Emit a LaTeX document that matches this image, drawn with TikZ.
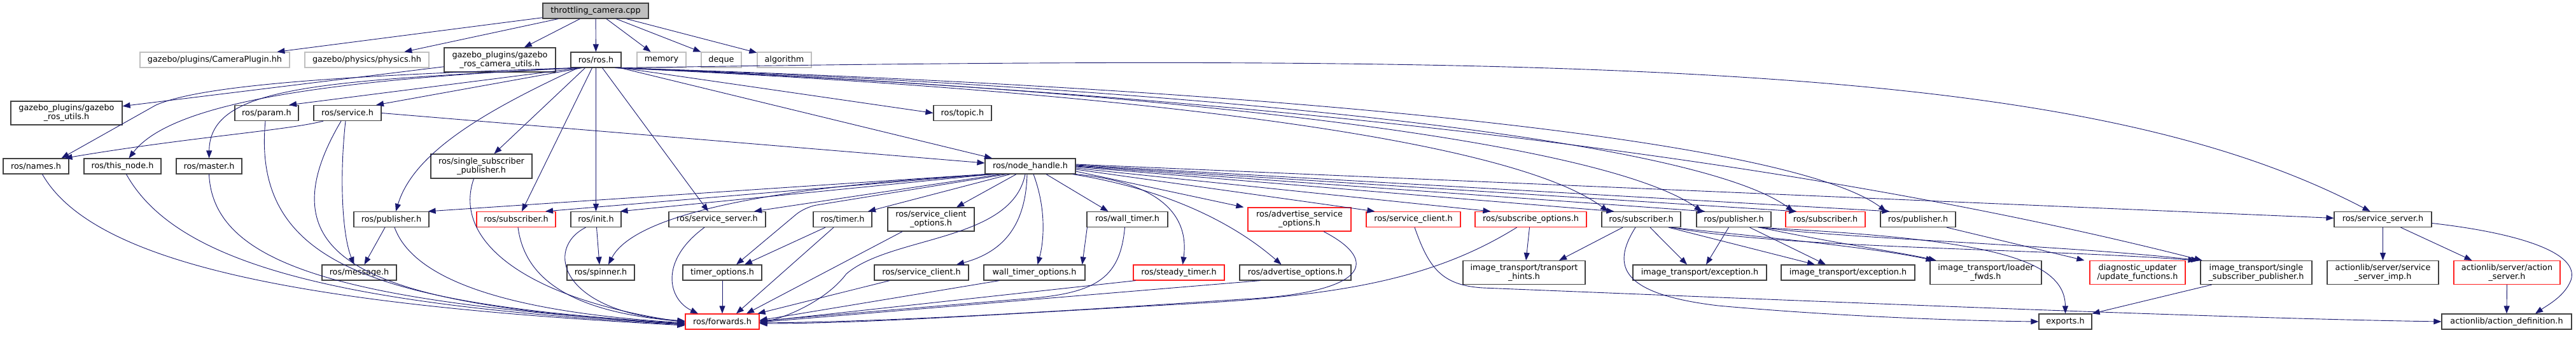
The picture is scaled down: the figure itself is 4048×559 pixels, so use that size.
\documentclass[tikz,border=0pt]{standalone}
\usepackage{fontspec}
\newfontfamily\dvs{DejaVu Sans}
\usetikzlibrary{arrows.meta,calc}
\definecolor{edgec}{HTML}{191970}
\definecolor{bordc}{HTML}{404040}
\definecolor{redc}{HTML}{FF2020}
\definecolor{grayc}{HTML}{BFBFBF}
\begin{document}
\begin{tikzpicture}[x=1pt,y=-1pt,
  box/.style={draw=bordc, line width=1.2pt, fill=white, inner sep=0pt, align=center,
    minimum height=24pt, font={\dvs\fontsize{12.8}{14}\selectfont}},
  tbox/.style={box, fill=grayc},
  gbox/.style={box, draw=grayc},
  rbox/.style={box, draw=redc},
  tall/.style={minimum height=37pt},
  e/.style={draw=edgec, line width=0.9pt, -{Triangle[length=12pt,width=9pt]}, fill=none},
]
\path[use as bounding box] (0,0) rectangle (4048,559);

% ---------- nodes ----------
\node[tbox, minimum width=166pt] (tc) at (936,17) {throttling\_camera.cpp};

\node[gbox, minimum width=235pt] (cam) at (337.5,94) {gazebo/plugins/CameraPlugin.hh};
\node[gbox, minimum width=195pt] (phys) at (576.5,94) {gazebo/physics/physics.hh};
\node[box, minimum width=175pt, minimum height=38pt] (gcu) at (785.5,94) {gazebo\_plugins/gazebo\\\_ros\_camera\_utils.h};
\node[box, minimum width=79pt] (ros) at (936.5,94) {ros/ros.h};
\node[gbox, minimum width=77pt] (mem) at (1039.5,94) {memory};
\node[gbox, minimum width=63pt] (deq) at (1133.5,94) {deque};
\node[gbox, minimum width=85pt] (alg) at (1232.5,94) {algorithm};

\node[box, tall, minimum width=175pt] (gru) at (104.5,177.5) {gazebo\_plugins/gazebo\\\_ros\_utils.h};
\node[box, minimum width=100pt] (param) at (419,177.5) {ros/param.h};
\node[box, minimum width=106pt] (service) at (546,177.5) {ros/service.h};
\node[box, minimum width=91pt] (topic) at (1512.5,177.5) {ros/topic.h};

\node[box, minimum width=103pt] (names) at (56.5,261) {ros/names.h};
\node[box, minimum width=121pt] (thisnode) at (192.5,261) {ros/this\_node.h};
\node[box, minimum width=103pt] (master) at (328.5,261) {ros/master.h};
\node[box, minimum width=159pt, minimum height=38pt] (ssp) at (756.5,261) {ros/single\_subscriber\\\_publisher.h};
\node[box, minimum width=142pt] (nh) at (1619,261) {ros/node\_handle.h};

\node[box, minimum width=118pt] (publ) at (615,344.5) {ros/publisher.h};
\node[rbox, minimum width=124pt] (subl) at (811,344.5) {ros/subscriber.h};
\node[box, minimum width=79pt] (init) at (936.5,344.5) {ros/init.h};
\node[box, minimum width=152pt] (ssrv) at (1127,344.5) {ros/service\_server.h};
\node[box, minimum width=92pt] (timer) at (1324,344.5) {ros/timer.h};
\node[box, tall, minimum width=136pt] (sco) at (1463,344.5) {ros/service\_client\\\_options.h};
\node[box, minimum width=127pt] (wt) at (1771.5,344.5) {ros/wall\_timer.h};
\node[rbox, tall, minimum width=162pt] (aso) at (2042,344.5) {ros/advertise\_service\\\_options.h};
\node[rbox, minimum width=148pt] (scr) at (2221,344.5) {ros/service\_client.h};
\node[rbox, minimum width=175pt] (so) at (2405.5,344.5) {ros/subscribe\_options.h};
\node[box, minimum width=124pt] (subm) at (2579,344.5) {ros/subscriber.h};
\node[box, minimum width=117pt] (pubm) at (2724.5,344.5) {ros/publisher.h};
\node[rbox, minimum width=125pt] (subr) at (2868.5,344.5) {ros/subscriber.h};
\node[box, minimum width=118pt] (pubr) at (3014,344.5) {ros/publisher.h};
\node[box, minimum width=153pt] (ssrvr) at (3744.5,344.5) {ros/service\_server.h};

\node[box, minimum width=117pt] (msg) at (564.5,428) {ros/message.h};
\node[box, minimum width=106pt] (spin) at (944,428) {ros/spinner.h};
\node[box, minimum width=124pt] (topt) at (1135,428) {timer\_options.h};
\node[box, minimum width=148pt] (scb) at (1448,428) {ros/service\_client.h};
\node[box, minimum width=159pt] (wto) at (1625.5,428) {wall\_timer\_options.h};
\node[rbox, minimum width=143pt] (st) at (1852.5,428) {ros/steady\_timer.h};
\node[box, minimum width=175pt] (ao) at (2035.5,428) {ros/advertise\_options.h};
\node[box, tall, minimum width=192pt] (th) at (2395,428) {image\_transport/transport\\\_hints.h};
\node[box, minimum width=210pt] (exa) at (2671,428) {image\_transport/exception.h};
\node[box, minimum width=210pt] (exb) at (2904,428) {image\_transport/exception.h};
\node[box, tall, minimum width=175pt] (lf) at (3120.5,428) {image\_transport/loader\\\_fwds.h};
\node[rbox, tall, minimum width=150pt] (du) at (3359,428) {diagnostic\_updater\\/update\_functions.h};
\node[box, tall, minimum width=175pt] (itssp) at (3545.5,428) {image\_transport/single\\\_subscriber\_publisher.h};
\node[box, tall, minimum width=175pt] (ssi) at (3744.5,428) {actionlib/server/service\\\_server\_imp.h};
\node[rbox, tall, minimum width=167pt] (asrv) at (3939.5,428) {actionlib/server/action\\\_server.h};

\node[rbox, minimum width=116pt] (fwd) at (1135,505) {ros/forwards.h};
\node[box, minimum width=83pt] (exp) at (3245.5,505) {exports.h};
\node[box, minimum width=204pt] (ad) at (3939,505) {actionlib/action\_definition.h};

% ---------- edges ----------
\draw[e] (tc) -- (cam);
\draw[e] (tc) -- (phys);
\draw[e] (tc) -- (gcu);
\draw[e] (tc) -- (ros);
\draw[e] (tc) -- (mem);
\draw[e] (tc) -- (deq);
\draw[e] (tc) -- (alg);
\draw[e] (gcu) -- (gru);

% ros/ros.h
\draw[e] ([xshift=-34pt]ros.south) .. controls (560,118) and (320,132) .. (245,165) -- ([xshift=40pt]names.north);
\draw[e] ([xshift=-32pt]ros.south) .. controls (520,125) and (270,160) .. ([xshift=10pt]thisnode.north);
\draw[e] ([xshift=-30pt]ros.south) .. controls (500,128) and (330,135) .. (master.north);
\draw[e] ([xshift=-25pt]ros.south) -- ([xshift=35pt]param.north);
\draw[e] ([xshift=-22pt]ros.south) -- ([xshift=45pt]service.north);
\draw[e] ([xshift=-28pt]ros.south) .. controls (760,175) and (650,240) .. ([xshift=7pt]publ.north);
\draw[e] ([xshift=-17pt]ros.south) -- ([xshift=20pt]ssp.north);
\draw[e] ([xshift=-6pt]ros.south) -- ([xshift=9pt]subl.north);
\draw[e] (ros.south) -- (init.north);
\draw[e] ([xshift=10pt]ros.south) -- ([xshift=-14pt]ssrv.north);
\draw[e] (ros.south east) -- (topic.west);
\draw[e] ([xshift=-2pt]ros.south east) -- ([xshift=-60pt]nh.north);
\draw[e] ([xshift=30pt]ros.south) .. controls (1600,135) and (2350,200) .. ([xshift=-52pt]subm.north);
\draw[e] ([xshift=32pt]ros.south) .. controls (1700,135) and (2500,210) .. ([xshift=-50pt]pubm.north);
\draw[e] ([xshift=34pt]ros.south) .. controls (1800,135) and (2650,210) .. ([xshift=-50pt]subr.north);
\draw[e] ([xshift=36pt]ros.south) .. controls (1900,135) and (2800,210) .. ([xshift=-50pt]pubr.north);
\draw[e] ([xshift=39pt]ros.south) .. controls (2600,80) and (3300,110) .. ([xshift=-20pt]ssrvr.north);
\draw[e] ([xshift=38pt]ros.south) .. controls (1500,130) and (2600,190) .. ([xshift=-85pt]itssp.north);

% ros/node_handle.h
\draw[e] (nh.south west) -- ([xshift=-2pt]publ.north east);
\draw[e] ([xshift=6pt]nh.south west) -- ([xshift=46pt]subl.north);
\draw[e] ([xshift=12pt]nh.south west) -- ([xshift=38pt]init.north);
\draw[e] ([xshift=18pt]nh.south west) .. controls (1250,290) and (1000,330) .. ([xshift=12pt]spin.north);
\draw[e] ([xshift=26pt]nh.south west) -- ([xshift=58pt]ssrv.north);
\draw[e, rounded corners=18pt] ([xshift=34pt]nh.south west) -- (1265,325) -- ([xshift=22pt]topt.north);
\draw[e] ([xshift=40pt]nh.south west) -- ([xshift=40pt]timer.north);
\draw[e] ([xshift=-22pt]nh.south) -- ([xshift=40pt]sco.north);
\draw[e] ([xshift=-5pt]nh.south) .. controls (1612,350) and (1580,395) .. ([xshift=55pt]scb.north);
\draw[e] ([xshift=-8pt]nh.south) .. controls (1590,380) and (1400,370) .. (1330,430) .. controls (1300,470) and (1240,497) .. ([yshift=-2pt]fwd.east);
\draw[e] ([xshift=5pt]nh.south) .. controls (1645,330) and (1640,380) .. ([xshift=5pt]wto.north);
\draw[e] ([xshift=25pt]nh.south) -- ([xshift=-30pt]wt.north);
\draw[e] (nh.south east) .. controls (1810,285) and (1870,330) .. ([xshift=6pt]st.north);
\draw[e] ([xshift=-5pt]nh.south east) .. controls (1850,300) and (1950,360) .. ([xshift=-22pt]ao.north);
\draw[e] ([yshift=-8pt]nh.east) -- ([xshift=-6pt]aso.north west);
\draw[e] ([yshift=-5pt]nh.east) -- ([xshift=14pt]scr.north west);
\draw[e] ([yshift=-3pt]nh.east) -- ([xshift=25pt]so.north west);
\draw[e] ([yshift=-1pt]nh.east) -- ([xshift=20pt]subm.north west);
\draw[e] (nh.east) -- ([xshift=14pt]pubm.north west);
\draw[e] ([yshift=1pt]nh.east) -- ([xshift=18pt]subr.north west);
\draw[e] ([yshift=2pt]nh.east) -- ([xshift=15pt]pubr.north west);
\draw[e] ([yshift=3pt]nh.east) -- ([yshift=2pt]ssrvr.west);

% ros/service.h
\draw[e] ([xshift=-38pt]service.south) .. controls (450,205) and (300,215) .. ([xshift=45pt]names.north);
\draw[e] (service.east) -- ([yshift=5pt]nh.west);
\draw[e] ([xshift=-3pt]service.south) .. controls (533,280) and (538,370) .. ([xshift=-8pt]msg.north);
\draw[e] ([xshift=-10pt]service.south) .. controls (400,420) and (600,480) .. ([yshift=-4pt]fwd.west);

% into ros/forwards.h from the left
\draw[e] ([xshift=-2pt]param.south) .. controls (395,420) and (600,478) .. ([yshift=-3pt]fwd.west);
\draw[e] ([xshift=10pt]names.south) .. controls (150,420) and (500,480) .. ([yshift=-6pt]fwd.west);
\draw[e] ([xshift=6pt]thisnode.south) .. controls (280,420) and (550,480) .. ([yshift=-5pt]fwd.west);
\draw[e] (master.south) .. controls (335,420) and (550,475) .. ([yshift=-4pt]fwd.west);
\draw[e] ([xshift=-10pt]publ.south) -- ([xshift=8pt]msg.north);
\draw[e] ([xshift=5pt]publ.south) .. controls (650,440) and (800,490) .. ([yshift=-2pt]fwd.west);
\draw[e] ([xshift=-12pt]ssp.south) .. controls (710,380) and (830,470) .. ([yshift=-1pt]fwd.west);
\draw[e] ([xshift=3pt]subl.south) .. controls (825,440) and (900,490) .. (fwd.west);
\draw[e] ([xshift=-16pt]init.south) .. controls (855,390) and (880,490) .. ([yshift=1pt]fwd.west);
\draw[e] ([xshift=1pt]init.south) -- ([xshift=-2pt]spin.north);
\draw[e] ([xshift=-20pt]ssrv.south) .. controls (1035,410) and (1050,470) .. ([xshift=-38pt]fwd.north);
\draw[e] ([xshift=-27pt]timer.south) -- ([xshift=35pt]topt.north);
\draw[e] ([xshift=-14pt]timer.south) -- ([xshift=22pt]fwd.north);
\draw[e] (topt.south) -- (fwd.north);
\draw[e] ([xshift=-45pt]sco.south) -- ([xshift=38pt]fwd.north);
\draw[e] ([xshift=-50pt]scb.south) -- ([xshift=-3pt]fwd.north east);

% into ros/forwards.h from the right
\draw[e] ([xshift=-55pt]wto.south) -- ([yshift=2pt]fwd.east);
\draw[e] ([xshift=-4pt]wt.south) .. controls (1760,440) and (1720,462) .. (1600,470) -- ([yshift=1pt]fwd.east);
\draw[e] ([xshift=1pt]wt.south west) -- ([xshift=-5pt]wto.north east);
\draw[e] ([xshift=-68pt]st.south) -- (fwd.east);
\draw[e] ([xshift=-55pt]ao.south) -- ([yshift=-1pt]fwd.east);
\draw[e] ([xshift=38pt]aso.south) .. controls (2170,410) and (2150,460) .. (1950,470) .. controls (1650,490) and (1400,505) .. ([yshift=-2pt]fwd.east);
\draw[e] ([xshift=-22pt]so.south) .. controls (2250,440) and (2100,465) .. (1850,478) .. controls (1550,495) and (1350,508) .. ([yshift=-3pt]fwd.east);
\draw[e] ([xshift=-2pt]so.south) -- ([xshift=3pt]th.north);
\draw[e] ([xshift=2pt]scr.south) .. controls (2245,420) and (2265,448) .. (2330,452) .. controls (2900,475) and (3500,500) .. (ad.west);

% image_transport block
\draw[e] ([xshift=-29pt]subm.south) -- ([xshift=55pt]th.north);
\draw[e] ([xshift=14pt]subm.south) -- ([xshift=-20pt]exa.north);
\draw[e] ([xshift=43pt]subm.south) -- ([xshift=-52pt]exb.north);
\draw[e] ([xshift=46pt]subm.south) .. controls (2800,375) and (2950,390) .. ([xshift=-82pt]lf.north);
\draw[e] ([xshift=48pt]subm.south) .. controls (2800,390) and (3200,390) .. ([xshift=-95pt]itssp.north);
\draw[e] ([xshift=-9pt]subm.south) .. controls (2530,420) and (2550,462) .. (2700,480) .. controls (2900,498) and (3100,504) .. (exp.west);
\draw[e] ([xshift=-8pt]pubm.south) -- ([xshift=10pt]exa.north);
\draw[e] ([xshift=25pt]pubm.south) -- ([xshift=-35pt]exb.north);
\draw[e] ([xshift=40pt]pubm.south) .. controls (2900,385) and (2980,395) .. ([xshift=-78pt]lf.north);
\draw[e] ([xshift=42pt]pubm.south) .. controls (2900,375) and (3250,385) .. ([xshift=-90pt]itssp.north);
\draw[e] ([xshift=38pt]pubm.south) .. controls (3100,375) and (3245,400) .. (exp.north);
\draw[e] ([xshift=45pt]pubr.south) -- ([xshift=-8pt]du.north west);
\draw[e] ([xshift=-70pt]itssp.south) -- (exp.north east);

% actionlib block
\draw[e] (ssrvr.south) -- (ssi.north);
\draw[e] ([xshift=28pt]ssrvr.south) -- ([xshift=-55pt]asrv.north);
\draw[e] ([yshift=-6pt]ssrvr.east) .. controls (3950,365) and (4055,395) .. (4040,440) .. controls (4030,465) and (4005,478) .. ([xshift=45pt]ad.north);
\draw[e] (asrv.south) -- (ad.north);
\end{tikzpicture}
\end{document}
